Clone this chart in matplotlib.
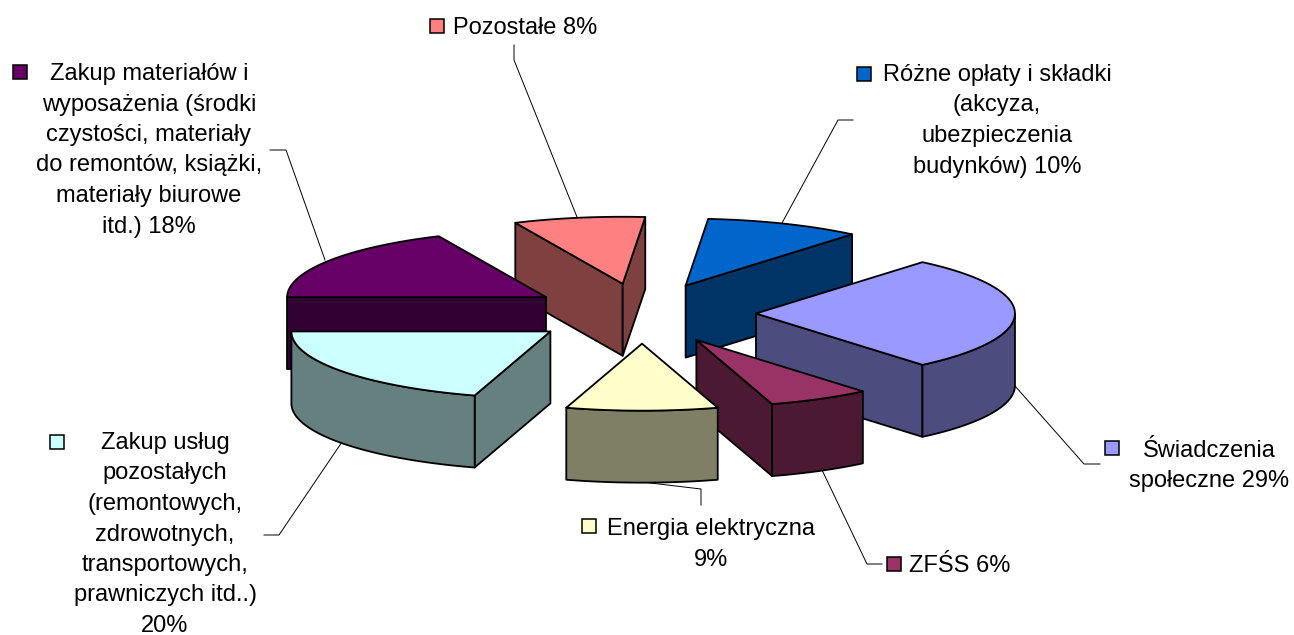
import numpy as np
import matplotlib
matplotlib.use('Agg')
import matplotlib.pyplot as plt
from matplotlib.patches import Polygon

plt.rcParams['font.family'] = ['Liberation Sans', 'DejaVu Sans']

# kolejnosc zgodnie z ruchem wskazowek zegara, od gory wykresu
names = [
    ['Różne opłaty i składki', '(akcyza,', 'ubezpieczenia', 'budynków) {}%'],
    ['Świadczenia', 'społeczne {}%'],
    ['ZFŚS {}%'],
    ['Energia elektryczna', '{}%'],
    ['Zakup usług', 'pozostałych', '(remontowych,', 'zdrowotnych,', 'transportowych,', 'prawniczych itd..)', '{}%'],
    ['Zakup materiałów i', 'wyposażenia (środki', 'czystości, materiały', 'do remontów, książki,', 'materiały biurowe', 'itd.) {}%'],
    ['Pozostałe {}%'],
]
percent = [10, 29, 6, 9, 20, 18, 8]
# katy wycinkow (w stopniach)
drawn_angle = [35, 100, 23, 34, 73, 65.5, 29.5]
top_colors = ['#0066CC', '#9999FF', '#993366', '#FFFFCC', '#CCFFFF', '#660066', '#FF8080']
side_colors = ['#003366', '#4C4C7F', '#4C1933', '#7F7F66', '#667F7F', '#330033', '#7F4040']

# polozenie tekstow: srodek x, baseline pierwszej linii, lewy rog klucza, gora klucza
label_x = [997, 1209, 960, 711, 165, 149, 525]
label_y = [81, 457, 572, 535, 449, 80, 34]
key_x = [857, 1105, 887, 582, 50, 13, 430]
key_y = [67, 441, 557, 519, 435, 65, 19]
leaders = [
    [(853, 120), (838, 120), (782, 223)],
    [(1100, 464), (1084, 464), (1015, 386)],
    [(882, 564), (867, 564), (822, 470)],
    [(701, 505), (701, 489), (642, 482)],
    [(264, 535), (279, 535), (342, 442)],
    [(270, 150), (286, 150), (325, 260)],
    [(514, 45), (514, 60), (577, 217)],
]

cx, cy = 642, 313.5
rx, ry = 259, 67
depth = 72
explode_x, explode_y = 0.44, 0.45
start_angle = 85


def ellipse_arc(x0, y0, t1, t2, n=60):
    t = np.radians(np.linspace(t1, t2, n))
    return np.column_stack([x0 + rx * np.cos(t), y0 - ry * np.sin(t)])


fig = plt.figure(figsize=(12.94, 6.35), dpi=100)
ax = fig.add_axes([0, 0, 1, 1])
ax.set_xlim(0, 1294)
ax.set_ylim(635, 0)
ax.axis('off')

ends = start_angle - np.cumsum(drawn_angle)
starts = ends + np.array(drawn_angle)
mids = (starts + ends) / 2

# najpierw wycinki z tylu
for i in np.argsort(-np.sin(np.radians(mids))):
    t1, t2 = starts[i], ends[i]
    mid = np.radians(mids[i])
    x0 = cx + explode_x * rx * np.cos(mid)
    y0 = cy - explode_y * ry * np.sin(mid)
    arc = ellipse_arc(x0, y0, t1, t2)
    down = np.array([0, depth])
    apex = np.array([x0, y0])
    style = dict(edgecolor='black', linewidth=1.3, joinstyle='round', zorder=2 + 0.01 * (np.sin(-mid) + 2))

    walls = []
    if np.cos(np.radians(t1)) < 0:
        walls.append(arc[0])
    if np.cos(np.radians(t2)) > 0:
        walls.append(arc[-1])
    for p in walls:
        ax.add_patch(Polygon([apex, p, p + down, apex + down], facecolor=side_colors[i], **style))

    # przod walca - tylko dolna polowa elipsy
    t = np.linspace(t1, t2, 120)
    t = t[np.sin(np.radians(t)) <= 0]
    if len(t) > 1:
        rim = ellipse_arc(x0, y0, t[0], t[-1], 120)
        ax.add_patch(Polygon(np.vstack([rim, rim[::-1] + down]), facecolor=side_colors[i], **style))

    ax.add_patch(Polygon(np.vstack([apex, arc]), facecolor=top_colors[i], **style))

for i in range(len(names)):
    xs, ys = zip(*leaders[i])
    ax.plot(xs, ys, color='black', lw=0.7, zorder=1)
    ax.add_patch(Polygon([(key_x[i], key_y[i]), (key_x[i] + 14, key_y[i]),
                          (key_x[i] + 14, key_y[i] + 14), (key_x[i], key_y[i] + 14)],
                         facecolor=top_colors[i], edgecolor='black', linewidth=1.1, zorder=3))
    for j, line in enumerate(names[i]):
        ax.text(label_x[i], label_y[i] + j * 30.5, line.format(percent[i]), ha='center', va='baseline',
                fontsize=17, color='black', zorder=4)

fig.savefig('out.png', dpi=100)
